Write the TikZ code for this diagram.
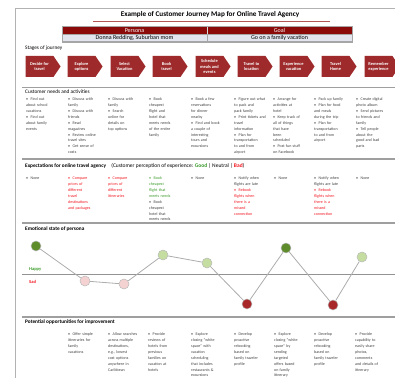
\documentclass[tikz,border=0pt]{standalone}
\usepackage{fontspec}
\setmainfont{Carlito}
\usetikzlibrary{shapes.symbols}
\definecolor{stagered}{HTML}{9E2A2B}
\definecolor{hdrred}{HTML}{8B0A0A}
\definecolor{rowgray}{HTML}{E3E5EE}
\definecolor{badred}{HTML}{F0141E}
\definecolor{goodgreen}{HTML}{3A9A2A}
\definecolor{darkgreen}{HTML}{5E8C2A}
\definecolor{lightgreen}{HTML}{C5DDA0}
\definecolor{pinkc}{HTML}{F4D2D2}
\definecolor{sadred}{HTML}{A8282A}
\definecolor{txtgray}{HTML}{404040}
\newcommand\bi{\par\hangindent=4.5pt\hangafter=1\noindent\makebox[4.5pt][l]{\textbullet}}
\begin{document}
\begin{tikzpicture}[x=1pt,y=-1pt,
  stage/.style={signal, signal to=east, signal pointer angle=112, fill=stagered, draw=none,
    text=white, font=\fontsize{4.4}{5.2}\selectfont\bfseries, minimum width=35pt,
    minimum height=21pt, inner sep=0pt, align=center},
  col/.style={anchor=north west, inner sep=0pt, text width=40pt, align=left,
    font=\fontsize{4}{5.9}\selectfont, text=txtgray},
  sechdr/.style={anchor=west, inner sep=0pt, font=\fontsize{5.3}{6}\selectfont},
  sep/.style={draw=gray!75, line width=1.4pt},
  emo/.style={circle, minimum size=10pt, inner sep=0pt, draw=gray!55, line width=0.5pt},
  emoline/.style={draw=gray!65, line width=0.8pt},
  cell/.style={minimum height=7.5pt, inner sep=0pt, font=\fontsize{6}{7}\selectfont}]
\useasboundingbox (0,0) rectangle (395,377);
% frame
\coordinate (fbl) at (15,380);
\coordinate (ftl) at (15,9);
\coordinate (ftr) at (398,9);
\draw[draw=gray!60, line width=1pt] (fbl) -- (ftl) -- (ftr);
% title
\node[inner sep=0pt, font=\fontsize{7.2}{8}\selectfont\bfseries] (title) at (210,15) {Example of Customer Journey Map for Online Travel Agency};
\coordinate (ul1) at (93,21.5);
\coordinate (ul2) at (330,21.5);
\draw[draw=stagered!80, line width=0.8pt] (ul1) -- (ul2);
% persona table
\node[cell, fill=hdrred, text=white, minimum width=145pt] (ph) at (134.5,30.5) {Persona};
\node[cell, fill=hdrred, text=white, minimum width=145pt] (gh) at (279.5,30.5) {Goal};
\node[cell, fill=rowgray, draw=gray!70, line width=0.5pt, minimum width=145pt] (pv) at (134.5,38) {Donna Redding, Suburban mom};
\node[cell, fill=rowgray, draw=gray!70, line width=0.5pt, minimum width=145pt] (gv) at (279.5,38) {Go on a family vacation};
\draw[draw=gray!70, line width=0.5pt] (ph.north west) rectangle (gv.south east);
\draw[draw=white!70!gray, line width=0.5pt] (ph.north east) -- (ph.south east);
% stages
\node[sechdr] (hstage) at (25,48) {Stages of journey};
\node[stage] (s1) at (39.5,66.5) {Decide for\\travel};
\node[stage] (s2) at (81.5,66.5) {Explore\\options};
\node[stage] (s3) at (124.5,66.5) {Select\\Vacation};
\node[stage] (s4) at (166.5,66.5) {Book\\travel};
\node[stage] (s5) at (209.5,66.5) {Schedule\\meals and\\events};
\node[stage] (s6) at (251.5,66.5) {Travel to\\location};
\node[stage] (s7) at (293.5,66.5) {Experience\\vacation};
\node[stage] (s8) at (335.5,66.5) {Travel\\Home};
\node[stage] (s9) at (378.5,66.5) {Remember\\experience};
% separators
\coordinate (a1) at (22,87.5); \coordinate (a2) at (395,87.5);
\coordinate (b1) at (22,159); \coordinate (b2) at (395,159);
\coordinate (c1) at (22,223); \coordinate (c2) at (395,223);
\coordinate (d1) at (22,317); \coordinate (d2) at (395,317);
\draw[sep] (a1) -- (a2);
\draw[sep] (b1) -- (b2);
\draw[sep] (c1) -- (c2);
\draw[sep] (d1) -- (d2);
% needs
\node[sechdr] (hneeds) at (25,92) {Customer needs and activities};
\node[col] (n1) at (26,94.5) {\bi Find out\\about school\\vacations\bi Find out\\about family\\events};
\node[col] (n2) at (68,94.5) {\bi Discuss with\\family\bi Discuss with\\friends\bi Read\\magazines\bi Review online\\travel sites\bi Get sense of\\costs};
\node[col] (n3) at (108,94.5) {\bi Discuss with\\family\bi Search\\online for\\details on\\top options};
\node[col] (n4) at (149,94.5) {\bi Book\\cheapest\\flight and\\hotel that\\meets needs\\of the entire\\family};
\node[col] (n5) at (191,94.5) {\bi Book a few\\reservations\\for dinner\\nearby\bi Find and book\\a couple of\\interesting\\tours and\\excursions};
\node[col] (n6) at (234,94.5) {\bi Figure out what\\to pack and\\pack family\bi Print tickets and\\travel\\information\bi Plan for\\transportation\\to and from\\airport};
\node[col] (n7) at (273,94.5) {\bi Arrange for\\activities at\\hotel\bi Keep track of\\all of things\\that have\\been\\scheduled\bi Post fun stuff\\on Facebook};
\node[col] (n8) at (314,94.5) {\bi Pack up family\bi Plan for food\\and meals\\during the trip\bi Plan for\\transportation\\to and from\\airport};
\node[col] (n9) at (356,94.5) {\bi Create digital\\photo album\bi Send pictures\\to friends and\\family\bi Tell people\\about the\\good and bad\\parts};
% expectations
\node[sechdr] (hexp) at (25,166) {\textbf{Expectations for online travel agency}\quad{\fontsize{5.5}{6}\selectfont (Customer perception of experience: \textcolor{goodgreen}{\textbf{Good}} | Neutral | \textcolor{badred}{\textbf{Bad}})}};
\node[col] (x1) at (26,173.5) {\bi None};
\node[col, text=badred] (x2) at (68,173.5) {\bi Compare\\prices of\\different\\travel\\destinations\\and packages};
\node[col, text=badred] (x3) at (108,173.5) {\bi Compare\\prices of\\different\\itineraries};
\node[col] (x4) at (149,173.5) {\color{goodgreen}\bi Book\\cheapest\\flight that\\meets needs\color{txtgray}\bi Book\\cheapest\\hotel that\\meets needs};
\node[col] (x5) at (191,173.5) {\bi None};
\node[col] (x6) at (234,173.5) {\bi Notify when\\flights are late\color{badred}\bi Rebook\\flights when\\there is a\\missed\\connection};
\node[col] (x7) at (274,173.5) {\bi None};
\node[col] (x8) at (314,173.5) {\bi Notify when\\flights are late\color{badred}\bi Rebook\\flights when\\there is a\\missed\\connection};
\node[col] (x9) at (356,173.5) {\bi None};
% emotional state
\node[sechdr, font=\fontsize{5.3}{6}\selectfont\bfseries] (hemo) at (25,229.5) {Emotional state of persona};
\coordinate (m1) at (22,274); \coordinate (m2) at (395,274);
\draw[draw=gray!85, line width=0.9pt] (m1) -- (m2);
\node[anchor=west, inner sep=0pt, text=goodgreen, font=\fontsize{4.5}{5}\selectfont\bfseries] (happy) at (29,269) {Happy};
\node[anchor=west, inner sep=0pt, text=badred, font=\fontsize{4.5}{5}\selectfont\bfseries] (sad) at (29,281.5) {Sad};
\node[emo, fill=darkgreen] (e1) at (36,246) {};
\node[emo, fill=pinkc] (e2) at (85,281) {};
\node[emo, fill=pinkc] (e3) at (124,284) {};
\node[emo, fill=lightgreen] (e4) at (163,255) {};
\node[emo, fill=lightgreen] (e5) at (207,263) {};
\node[emo, fill=sadred] (e6) at (247,304) {};
\node[emo, fill=darkgreen] (e7) at (286,248) {};
\node[emo, fill=sadred] (e8) at (333,305) {};
\node[emo, fill=lightgreen] (e9) at (362,257) {};
\draw[emoline] (e1) -- (e2);
\draw[emoline] (e2) -- (e3);
\draw[emoline] (e3) -- (e4);
\draw[emoline] (e4) -- (e5);
\draw[emoline] (e5) -- (e6);
\draw[emoline] (e6) -- (e7);
\draw[emoline] (e7) -- (e8);
\draw[emoline] (e8) -- (e9);
% opportunities
\node[sechdr, font=\fontsize{5.3}{6}\selectfont\bfseries] (hopp) at (25,322) {Potential opportunities for improvement};
\node[col] (o2) at (68,329.5) {\bi Offer simple\\itineraries for\\family\\vacations};
\node[col] (o3) at (108,329.5) {\bi Allow searches\\across multiple\\destinations,\\e.g., lowest\\cost options\\anywhere in\\Caribbean};
\node[col] (o4) at (148,329.5) {\bi Provide\\reviews of\\hotels from\\previous\\families on\\vacation at\\hotels};
\node[col] (o5) at (191,329.5) {\bi Explore\\closing ``white\\space'' with\\vacation\\scheduling\\that includes\\restaurants \&\\excursions};
\node[col] (o6) at (234,329.5) {\bi Develop\\proactive\\rebooking\\based on\\family traveler\\profile};
\node[col] (o7) at (274,329.5) {\bi Explore\\closing ``white\\space'' by\\sending\\targeted\\offers based\\on family\\itinerary};
\node[col] (o8) at (314,329.5) {\bi Develop\\proactive\\rebooking\\based on\\family traveler\\profile};
\node[col] (o9) at (355,329.5) {\bi Provide\\capability to\\easily share\\photos,\\comments\\and details of\\itinerary};
\end{tikzpicture}
\end{document}
